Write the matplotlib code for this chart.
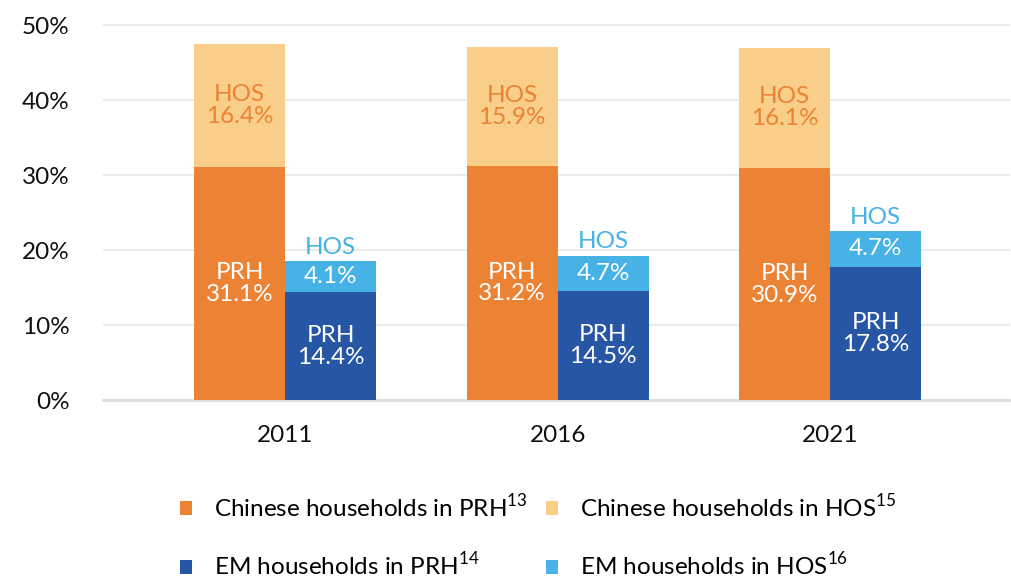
import numpy as np
import matplotlib
matplotlib.use("Agg")
import matplotlib.pyplot as plt

plt.rcParams['font.family'] = ['Lato', 'DejaVu Sans']
plt.rcParams['mathtext.fontset'] = 'custom'
plt.rcParams['mathtext.rm'] = 'Lato'

years = ['2011', '2016', '2021']
chinese_prh = [31.1, 31.2, 30.9]
chinese_hos = [16.4, 15.9, 16.1]
em_prh = [14.4, 14.5, 17.8]
em_hos = [4.1, 4.7, 4.7]

c_orange = '#EC8233'
c_lorange = '#F8CE88'
c_blue = '#2757A4'
c_lblue = '#47B2E6'

fig = plt.figure(figsize=(10.12, 5.79), dpi=100)
ax = fig.add_axes([0.102, 0.309, 0.896, 0.6543])

x = np.arange(len(years))
w = 0.334
fs = 17.5

b1 = ax.bar(x - w / 2, chinese_prh, w, color=c_orange, zorder=3)
b2 = ax.bar(x - w / 2, chinese_hos, w, bottom=chinese_prh, color=c_lorange, zorder=3)
b3 = ax.bar(x + w / 2, em_prh, w, color=c_blue, zorder=3)
b4 = ax.bar(x + w / 2, em_hos, w, bottom=em_prh, color=c_lblue, zorder=3)

for i in range(len(years)):
    xc = x[i] - w / 2
    ax.text(xc, chinese_prh[i] / 2, f'PRH\n{chinese_prh[i]:.1f}%', ha='center', va='center',
            color='white', fontsize=fs, linespacing=1.05, zorder=4)
    ax.text(xc, chinese_prh[i] + chinese_hos[i] / 2, f'HOS\n{chinese_hos[i]:.1f}%', ha='center',
            va='center', color=c_orange, fontsize=fs, linespacing=1.05, zorder=4)
    xe = x[i] + w / 2
    ax.text(xe, em_prh[i] / 2, f'PRH\n{em_prh[i]:.1f}%', ha='center', va='center',
            color='white', fontsize=fs, linespacing=1.05, zorder=4)
    ax.text(xe, em_prh[i] + em_hos[i] / 2, f'{em_hos[i]:.1f}%', ha='center', va='center',
            color='white', fontsize=fs, zorder=4)
    ax.text(xe, em_prh[i] + em_hos[i] + 0.5, 'HOS', ha='center', va='bottom',
            color=c_lblue, fontsize=fs, zorder=4)

ax.set_xlim(-0.668, 2.66)
ax.set_ylim(0, 50.5)
ax.set_yticks(np.arange(0, 51, 10))
ax.set_yticklabels([f'{v}%' for v in range(0, 51, 10)])
ax.set_xticks(x)
ax.set_xticklabels(years)
ax.tick_params(axis='both', length=0, labelsize=fs, colors='#111111')
ax.tick_params(axis='y', pad=24)
ax.tick_params(axis='x', pad=18)
ax.grid(axis='y', color='#E6E6E6', linewidth=1.2, zorder=0)
for s in ['top', 'right', 'left']:
    ax.spines[s].set_visible(False)
ax.spines['bottom'].set_color('#DDDDDD')
ax.spines['bottom'].set_linewidth(2)

handles = [b1, b3, b2, b4]
labels = ['Chinese households in PRH$^{13}$', 'EM households in PRH$^{14}$',
          'Chinese households in HOS$^{15}$', 'EM households in HOS$^{16}$']
fig.legend(handles, labels, ncol=2, loc='center', bbox_to_anchor=(0.532, 0.074),
           frameon=False, fontsize=fs, handlelength=0.5, handleheight=0.5,
           handletextpad=0.9, labelspacing=1.25, columnspacing=0.75,
           borderpad=0, borderaxespad=0)

fig.savefig('out.png', dpi=100)
